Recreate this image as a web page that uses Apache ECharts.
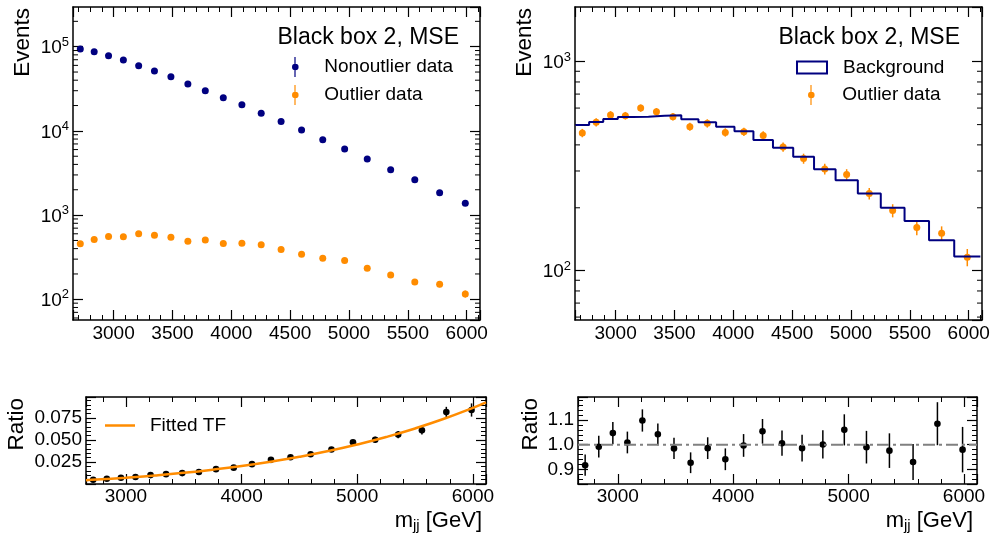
<!DOCTYPE html>
<html><head><meta charset="utf-8">
<script src="https://cdn.jsdelivr.net/npm/echarts@6/dist/echarts.min.js"></script>
<style>html,body{margin:0;padding:0;background:#fff}#c{width:990px;height:537px}</style>
</head><body><div id="c"></div>
<script>
// ---------- data ----------
const binEdges = [2659, 2775, 2895, 3019, 3147, 3279, 3416, 3558, 3704, 3854, 4010, 4171, 4337, 4509, 4686, 4869, 5058, 5253, 5455, 5663, 5877, 6099];
const binCenters = [2717, 2835, 2957, 3083, 3213, 3347, 3487, 3631, 3779, 3932, 4090, 4254, 4423, 4597, 4777, 4963, 5155, 5354, 5559, 5770, 5988];
const nonoutlierCounts = [94000, 87300, 78200, 69500, 59500, 51400, 44000, 36100, 30000, 24800, 20500, 16200, 12900, 10250, 7860, 6090, 4640, 3460, 2630, 1845, 1380];
const nonoutlierErrors = [307, 295, 280, 264, 244, 227, 210, 190, 173, 157, 143, 127, 114, 101, 89, 78, 68, 59, 51, 43, 37];
const outlierCounts = [456, 513, 556, 552, 600, 576, 546, 489, 507, 459, 462, 444, 391, 344, 307, 289, 234, 194, 161, 151, 116];
const outlierErrors = [21, 23, 24, 23, 24, 24, 23, 22, 23, 21, 21, 21, 20, 19, 18, 17, 15, 14, 13, 12, 11];
const backgroundCounts = [498, 515, 532, 544, 546, 551, 554, 530, 513, 489, 465, 422, 388, 351, 306, 271, 234, 200, 173, 140, 117];
const tfRatio = [0.0049, 0.0059, 0.0071, 0.0080, 0.0101, 0.0112, 0.0124, 0.0137, 0.0169, 0.0186, 0.0226, 0.0275, 0.0304, 0.0338, 0.0392, 0.0474, 0.0504, 0.0562, 0.0612, 0.0818, 0.0842];
const tfRatioErrors = [0.0002, 0.0003, 0.0003, 0.0003, 0.0004, 0.0005, 0.0005, 0.0006, 0.0008, 0.0009, 0.0011, 0.0013, 0.0015, 0.0018, 0.0022, 0.0028, 0.0033, 0.0040, 0.0048, 0.0060, 0.0075];
const fitCurveX = [2655, 2750, 3000, 3250, 3500, 3750, 4000, 4250, 4500, 4750, 5000, 5250, 5500, 5750, 6000, 6113];
const fitCurveY = [0.0043, 0.0050, 0.0072, 0.0097, 0.0127, 0.0163, 0.0205, 0.0254, 0.0310, 0.0375, 0.0450, 0.0535, 0.0632, 0.0742, 0.0866, 0.0928];
const bkgRatio = [0.917, 0.992, 1.047, 1.009, 1.098, 1.042, 0.985, 0.927, 0.986, 0.941, 0.997, 1.054, 1.006, 0.986, 1.001, 1.060, 0.990, 0.976, 0.930, 1.085, 0.980];
const bkgRatioErrors = [0.043, 0.044, 0.045, 0.044, 0.045, 0.044, 0.043, 0.042, 0.044, 0.044, 0.046, 0.050, 0.051, 0.054, 0.057, 0.063, 0.066, 0.070, 0.073, 0.087, 0.092];
const refLineX = [2655, 6113];
const refLineY = [1, 1];
const logMinorTicksLeft = [60, 70, 80, 90, 200, 300, 400, 500, 600, 700, 800, 900, 2000, 3000, 4000, 5000, 6000, 7000, 8000, 9000, 20000, 30000, 40000, 50000, 60000, 70000, 80000, 90000, 200000];
const logMinorTicksRight = [60, 70, 80, 90, 200, 300, 400, 500, 600, 700, 800, 900];
const titleText = 'Black box 2, MSE';

// ---------- styling ----------
const FONT = 'Liberation Sans, Arial, Helvetica, sans-serif';
const NAVY = '#000080';
const ORANGE = '#ff8c00';
const X_MIN = 2655, X_MAX = 6113;
const errIcon = 'path://M2.4,0H3.6V20H2.4Z M0,10a3.3,3.3 0 1,1 6.6,0a3.3,3.3 0 1,1 -6.6,0Z';
const lineIcon = 'path://M0,0H30V2.5H0Z';

function xAxes(gi, splitNumber, margin, withName) {
  const base = {
    type: 'value', gridIndex: gi, min: X_MIN, max: X_MAX, splitNumber: splitNumber,
    axisLine: {show: true, onZero: false, lineStyle: {color: '#000', width: 1.5}},
    axisTick: {show: true, inside: true, length: 10, lineStyle: {color: '#000', width: 1.2}},
    minorTick: {show: true, splitNumber: 5, length: 5, lineStyle: {color: '#000', width: 1}},
    splitLine: {show: false}, minorSplitLine: {show: false}
  };
  const bottom = Object.assign({}, base, {
    position: 'bottom',
    axisLabel: {show: true, margin: margin, fontSize: 19, color: '#000', fontFamily: FONT,
      showMinLabel: false, showMaxLabel: false, formatter: v => String(Math.round(v))}
  });
  if (withName) {
    Object.assign(bottom, {
      name: '{m|m}{s|jj}{m| [GeV]}', nameLocation: 'end', nameGap: -4,
      nameTextStyle: {align: 'right', verticalAlign: 'top', padding: [25, 0, 0, 0],
        rich: {m: {fontSize: 22, fontFamily: FONT, color: '#000'},
               s: {fontSize: 15, fontFamily: FONT, color: '#000', padding: [9, 0, 0, 0]}}}
    });
  }
  const top = Object.assign({}, base, {position: 'top', axisLabel: {show: false}});
  return [bottom, top];
}

function yLogAxes(gi, min, max) {
  const base = {
    type: 'log', logBase: 10, gridIndex: gi, min: min, max: max,
    axisLine: {show: true, onZero: false, lineStyle: {color: '#000', width: 1.5}},
    axisTick: {show: true, inside: true, length: 10, lineStyle: {color: '#000', width: 1.2}},
    minorTick: {show: false}, splitLine: {show: false}
  };
  const left = Object.assign({}, base, {
    position: 'left',
    axisLabel: {show: true, margin: 4, showMinLabel: false, showMaxLabel: false,
      formatter: v => '{b|10}{s|' + Math.round(Math.log10(v)) + '}',
      rich: {b: {fontSize: 19, fontFamily: FONT, color: '#000', verticalAlign: 'bottom'},
             s: {fontSize: 13, fontFamily: FONT, color: '#000', verticalAlign: 'bottom', padding: [0, 0, 9, 0]}}}
  });
  const right = Object.assign({}, base, {position: 'right', axisLabel: {show: false}});
  return [left, right];
}

function yLinAxes(gi, opts, fmt) {
  const base = Object.assign({
    type: 'value', gridIndex: gi,
    axisLine: {show: true, onZero: false, lineStyle: {color: '#000', width: 1.5}},
    axisTick: {show: true, inside: true, length: 10, lineStyle: {color: '#000', width: 1.2}},
    minorTick: {show: true, splitNumber: 5, length: 5, lineStyle: {color: '#000', width: 1}},
    splitLine: {show: false}, minorSplitLine: {show: false}
  }, opts);
  const left = Object.assign({}, base, {
    position: 'left',
    axisLabel: {show: true, margin: 4, fontSize: 19, color: '#000', fontFamily: FONT,
      showMinLabel: false, showMaxLabel: false, formatter: fmt}
  });
  const right = Object.assign({}, base, {position: 'right', axisLabel: {show: false}});
  return [left, right];
}

function errRender(color, r) {
  return function (params, api) {
    const x = api.value(0), y = api.value(1), e = api.value(2);
    const p = api.coord([x, y]);
    const hi = api.coord([x, y + e]);
    const lo = api.coord([x, y - e]);
    return {type: 'group', children: [
      {type: 'line', shape: {x1: p[0], y1: hi[1], x2: p[0], y2: lo[1]}, style: {stroke: color, lineWidth: 1.5}},
      {type: 'circle', shape: {cx: p[0], cy: p[1], r: r}, style: {fill: color}}
    ]};
  };
}

function minorTickRender(params, api) {
  const cs = params.coordSys;
  const y = api.coord([api.value(0), api.value(1)])[1];
  return {type: 'group', children: [
    {type: 'line', shape: {x1: cs.x, y1: y, x2: cs.x + 5, y2: y}, style: {stroke: '#000', lineWidth: 1}},
    {type: 'line', shape: {x1: cs.x + cs.width - 5, y1: y, x2: cs.x + cs.width, y2: y}, style: {stroke: '#000', lineWidth: 1}}
  ]};
}

function errData(xs, ys, es) { return xs.map((x, i) => [x, ys[i], es[i]]); }

const stepData = binEdges.map((e, i) => [e, backgroundCounts[Math.min(i, backgroundCounts.length - 1)]]);
const legendText = {fontSize: 19, color: '#000', fontFamily: FONT};

const option = {
  animation: false,
  backgroundColor: '#fff',
  textStyle: {fontFamily: FONT},
  grid: [
    {left: 73, top: 7, width: 407, height: 313, outerBoundsMode: 'none'},
    {left: 575, top: 7, width: 407, height: 313, outerBoundsMode: 'none'},
    {left: 86, top: 397, width: 400, height: 87, outerBoundsMode: 'none'},
    {left: 578, top: 397, width: 399, height: 87, outerBoundsMode: 'none'}
  ],
  xAxis: [].concat(xAxes(0, 6, 4, false), xAxes(1, 6, 4, false), xAxes(2, 3, 3, true), xAxes(3, 3, 3, true)),
  yAxis: [].concat(
    yLogAxes(0, 56.8, 296000),
    yLogAxes(1, 58.1, 1827),
    yLinAxes(2, {min: 0, max: 0.099, interval: 0.025}, v => v.toFixed(3)),
    yLinAxes(3, {min: 0.841, max: 1.193, splitNumber: 4}, v => v.toFixed(1))
  ),
  title: [
    {text: titleText, right: 531, top: 26, padding: 0, textStyle: {fontSize: 23, fontWeight: 'normal', color: '#000', fontFamily: FONT}},
    {text: titleText, right: 30, top: 26, padding: 0, textStyle: {fontSize: 23, fontWeight: 'normal', color: '#000', fontFamily: FONT}}
  ],
  legend: [
    {data: [{name: 'Nonoutlier data', icon: errIcon}], left: 292, top: 57, padding: 0, itemWidth: 30, itemHeight: 20, selectedMode: false,
      textStyle: Object.assign({padding: [0, 0, 0, 9]}, legendText)},
    {data: [{name: 'Outlier data', icon: errIcon}], left: 292, top: 85, padding: 0, itemWidth: 30, itemHeight: 20, selectedMode: false,
      textStyle: Object.assign({padding: [0, 0, 0, 9]}, legendText)},
    {data: [{name: 'Background', icon: 'rect', itemStyle: {color: 'rgba(0,0,0,0)', borderColor: NAVY, borderWidth: 2}}],
      left: 796, top: 58, padding: 0, itemWidth: 30, itemHeight: 12, selectedMode: false,
      textStyle: Object.assign({padding: [0, 0, 0, 11]}, legendText)},
    {data: [{name: 'Outlier data', icon: errIcon}], left: 808, top: 85, padding: 0, itemWidth: 30, itemHeight: 20, selectedMode: false,
      textStyle: Object.assign({padding: [0, 0, 0, 11]}, legendText)},
    {data: [{name: 'Fitted TF', icon: lineIcon}], left: 105, top: 416, padding: 0, itemWidth: 30, itemHeight: 14, selectedMode: false,
      textStyle: Object.assign({padding: [0, 0, 0, 10]}, legendText)}
  ],
  graphic: [
    {type: 'text', x: 23, y: 8, rotation: Math.PI / 2, style: {text: 'Events', fontSize: 22.5, fontFamily: FONT, fill: '#000', align: 'right', verticalAlign: 'middle'}},
    {type: 'text', x: 524.5, y: 8, rotation: Math.PI / 2, style: {text: 'Events', fontSize: 22.5, fontFamily: FONT, fill: '#000', align: 'right', verticalAlign: 'middle'}},
    {type: 'text', x: 17, y: 398, rotation: Math.PI / 2, style: {text: 'Ratio', fontSize: 22.5, fontFamily: FONT, fill: '#000', align: 'right', verticalAlign: 'middle'}},
    {type: 'text', x: 531, y: 398, rotation: Math.PI / 2, style: {text: 'Ratio', fontSize: 22.5, fontFamily: FONT, fill: '#000', align: 'right', verticalAlign: 'middle'}}
  ],
  series: [
    {type: 'custom', name: 'Nonoutlier data', xAxisIndex: 0, yAxisIndex: 0, itemStyle: {color: NAVY},
      encode: {x: 0, y: 1}, renderItem: errRender(NAVY, 3.5), data: errData(binCenters, nonoutlierCounts, nonoutlierErrors)},
    {type: 'custom', name: 'Outlier data', xAxisIndex: 0, yAxisIndex: 0, itemStyle: {color: ORANGE},
      encode: {x: 0, y: 1}, renderItem: errRender(ORANGE, 3.5), data: errData(binCenters, outlierCounts, outlierErrors)},
    {type: 'custom', xAxisIndex: 0, yAxisIndex: 0, silent: true, encode: {x: 0, y: 1},
      renderItem: minorTickRender, data: logMinorTicksLeft.map(v => [X_MIN, v])},
    {type: 'line', name: 'Background', xAxisIndex: 2, yAxisIndex: 2, step: 'end', symbol: 'none',
      lineStyle: {color: NAVY, width: 2}, itemStyle: {color: NAVY}, data: stepData},
    {type: 'custom', name: 'Outlier data', xAxisIndex: 2, yAxisIndex: 2, itemStyle: {color: ORANGE},
      encode: {x: 0, y: 1}, renderItem: errRender(ORANGE, 3.5), data: errData(binCenters, outlierCounts, outlierErrors)},
    {type: 'custom', xAxisIndex: 2, yAxisIndex: 2, silent: true, encode: {x: 0, y: 1},
      renderItem: minorTickRender, data: logMinorTicksRight.map(v => [X_MIN, v])},
    {type: 'line', name: 'Fitted TF', xAxisIndex: 4, yAxisIndex: 4, smooth: true, symbol: 'none', showSymbol: false,
      lineStyle: {color: ORANGE, width: 2.5}, itemStyle: {color: ORANGE},
      data: fitCurveX.map((x, i) => [x, fitCurveY[i]])},
    {type: 'custom', name: 'TF ratio', xAxisIndex: 4, yAxisIndex: 4, itemStyle: {color: '#000'},
      encode: {x: 0, y: 1}, renderItem: errRender('#000', 3.3), data: errData(binCenters, tfRatio, tfRatioErrors)},
    {type: 'line', name: 'Unity', xAxisIndex: 6, yAxisIndex: 6, symbol: 'none', silent: true,
      lineStyle: {color: '#808080', width: 2, type: [12, 4, 3, 4]},
      data: refLineX.map((x, i) => [x, refLineY[i]])},
    {type: 'custom', name: 'Background ratio', xAxisIndex: 6, yAxisIndex: 6, itemStyle: {color: '#000'},
      encode: {x: 0, y: 1}, renderItem: errRender('#000', 3.3), data: errData(binCenters, bkgRatio, bkgRatioErrors)}
  ]
};

const chart = echarts.init(document.getElementById('c'), null, {renderer: 'canvas'});
chart.setOption(option);
</script>
</body></html>
